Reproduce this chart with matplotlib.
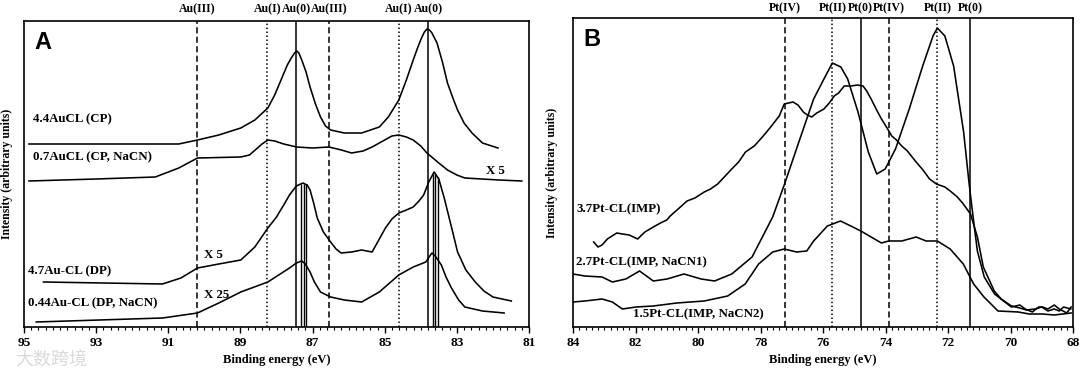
import matplotlib
matplotlib.use("Agg")
import matplotlib.pyplot as plt
from matplotlib.ticker import MultipleLocator
import numpy as np

SERIF = ["Liberation Serif", "DejaVu Serif"]

# ---------------- Panel A: Au 4f ----------------
a_lines = [90.2, 88.25, 87.45, 86.55, 84.6, 83.8]
a_labels = ["Au(III)", "Au(I)", "Au(0)", "Au(III)", "Au(I)", "Au(0)"]
a_styles = ["dashed", "dotted", "solid", "dashed", "dotted", "solid"]

a1_ev = [94.86, 92.80, 91.20, 90.71, 90.19, 89.60, 88.99, 88.60, 88.24, 88.05,
         87.84, 87.70, 87.59, 87.50, 87.44, 87.38, 87.30, 87.18, 87.07, 86.92,
         86.78, 86.64, 86.50, 86.12, 85.64, 85.15, 84.90, 84.61, 84.40, 84.21,
         84.08, 83.98, 83.90, 83.83, 83.76, 83.69, 83.55, 83.40, 83.26, 83.10,
         82.98, 82.80, 82.58, 82.29, 81.86]
a1_y = [183, 183, 183, 183, 187, 192, 199, 207, 219, 232,
        250, 262, 269, 274, 276, 274, 267, 255, 240, 223,
        210, 201, 197, 194, 194, 200, 210, 227, 247, 267,
        280, 289, 295, 298, 297, 294, 284, 265, 244, 228,
        217, 204, 194, 184, 179]

a2_ev = [94.86, 93.00, 91.36, 90.71, 90.19, 88.99, 88.75, 88.40, 88.24, 88.05,
         87.80, 87.44, 87.00, 86.55, 86.20, 85.92, 85.60, 85.35, 85.00, 84.80,
         84.61, 84.40, 84.21, 84.00, 83.83, 83.50, 83.26, 83.00, 82.78, 81.83, 81.20]
a2_y = [146, 148, 150, 159, 169, 170, 172, 183, 187, 186,
        183, 180, 179, 180, 177, 174, 176, 180, 187, 191,
        192, 190, 187, 181, 174, 164, 157, 152, 149, 147, 146]

a3_ev = [94.46, 92.80, 91.16, 90.65, 90.19, 89.60, 88.99, 88.60, 88.24, 88.00,
         87.80, 87.64, 87.45, 87.27, 87.15, 87.07, 86.97, 86.87, 86.70, 86.50,
         86.35, 86.21, 85.92, 85.64, 85.35, 84.98, 84.80, 84.61, 84.40, 84.21,
         84.05, 83.92, 83.78, 83.63, 83.50, 83.35, 83.15, 82.98, 82.75, 82.49,
         82.25, 82.00, 81.49]
a3_y = [45, 44, 43, 49, 59, 63, 67, 80, 99, 110,
        122, 132, 141, 144, 142, 137, 124, 109, 95, 85,
        78, 74, 75, 77, 75, 99, 108, 114, 117, 120,
        126, 132, 145, 155, 148, 129, 100, 75, 57, 45,
        36, 30, 26]

a4_ev = [94.66, 91.16, 90.19, 89.60, 88.99, 88.24, 87.64, 87.45, 87.30, 87.20,
         87.07, 86.95, 86.78, 86.50, 86.12, 85.64, 85.15, 84.61, 84.21, 83.86,
         83.75, 83.69, 83.60, 83.43, 83.30, 83.15, 82.95, 82.78, 82.29, 81.69]
a4_y = [5, 9, 14, 24, 35, 45, 59, 64, 66, 63,
        55, 45, 35, 30, 27, 25, 35, 52, 60, 65,
        71, 74, 71, 62, 50, 39, 27, 20, 16, 14]

a_sticks = [87.31, 87.24, 87.18, 83.66, 83.60, 83.53]

# ---------------- Panel B: Pt 4f ----------------
b_lines = [77.23, 75.70, 74.79, 73.90, 72.34, 71.30]
b_labels = ["Pt(IV)", "Pt(II)", "Pt(0)", "Pt(IV)", "Pt(II)", "Pt(0)"]
b_styles = ["dashed", "dotted", "solid", "dashed", "dotted", "solid"]

b1_ev = [83.34, 83.20, 83.07, 82.90, 82.75, 82.60, 82.42, 82.20, 81.93, 81.70,
         81.43, 81.20, 81.00, 80.89, 80.60, 80.35, 80.10, 79.80, 79.60, 79.37,
         79.10, 78.92, 78.70, 78.48, 78.20, 77.94, 77.70, 77.40, 77.24, 76.96,
         76.80, 76.63, 76.50, 76.36, 76.20, 75.97, 75.80, 75.64, 75.50, 75.32,
         75.10, 74.90, 74.72, 74.60, 74.46, 74.30, 74.13, 73.95, 73.80, 73.65,
         73.48, 73.30, 73.02, 72.80, 72.59, 72.37, 72.10, 71.93, 71.70, 71.51,
         71.28, 71.06, 70.87, 70.52, 70.30, 69.97, 69.70, 69.50, 69.21, 69.00,
         68.80, 68.60, 68.44, 68.30, 68.07]
b1_y = [85, 80, 82, 88, 91, 94, 93, 92, 88, 95,
        100, 104, 107, 111, 119, 126, 129, 135, 138, 143,
        152, 158, 165, 175, 181, 190, 199, 211, 223, 225,
        222, 215, 212, 210, 214, 218, 224, 231, 234, 241,
        241, 242, 241, 236, 228, 218, 208, 199, 191, 187,
        181, 176, 165, 157, 148, 143, 140, 136, 130, 123,
        113, 90, 60, 36, 28, 21, 19, 17, 18, 20,
        16, 18, 16, 20, 18]

b2_ev = [84.00, 83.62, 83.07, 82.74, 82.31, 81.87, 81.43, 80.99, 80.45, 79.90,
         79.47, 78.92, 78.27, 77.61, 77.23, 76.74, 76.30, 75.97, 75.70, 75.43,
         75.21, 74.88, 74.55, 74.28, 74.01, 73.68, 73.24, 72.81, 72.48, 72.34,
         72.10, 71.82, 71.50, 71.33, 71.22, 71.06, 70.84, 70.51, 69.97, 69.70,
         69.53, 69.30, 69.10, 68.98, 68.80, 68.60, 68.44, 68.20, 68.06]
b2_y = [53, 51, 50, 45, 48, 56, 46, 48, 53, 48,
        46, 53, 70, 110, 143, 188, 228, 248, 264, 260,
        248, 215, 175, 153, 158, 178, 218, 261, 291, 299,
        291, 261, 195, 145, 116, 76, 50, 33, 20, 22,
        18, 15, 20, 20, 18, 22, 18, 14, 20]

b3_ev = [84.00, 83.62, 83.07, 82.74, 82.42, 81.98, 81.43, 80.68, 79.80, 79.05,
         78.49, 78.06, 77.61, 77.24, 76.85, 76.52, 76.30, 75.86, 75.44, 75.11,
         74.79, 74.46, 74.13, 73.90, 73.48, 73.02, 72.70, 72.34, 71.93, 71.51,
         71.18, 70.85, 70.40, 69.75, 69.40, 68.98, 68.60, 68.06]
b3_y = [25, 26, 28, 25, 18, 20, 21, 24, 26, 31,
        43, 63, 75, 78, 75, 76, 86, 101, 106, 101,
        96, 90, 84, 86, 86, 90, 86, 86, 78, 63,
        43, 30, 16, 15, 13, 13, 12, 14]

fig = plt.figure(figsize=(10.8, 3.7), dpi=100)
axA = fig.add_axes([24 / 1080, 43 / 370, 505 / 1080, 306 / 370])
axB = fig.add_axes([573 / 1080, 43 / 370, 500 / 1080, 309 / 370])

line_kw = dict(color="black", lw=1.15)
styles = {"dashed": (0, (4, 2.2)), "dotted": (0, (1, 1.6)), "solid": "-"}

def setup(ax, xmax, xmin, ymax, ticks):
    ax.set_xlim(xmax, xmin)
    ax.set_ylim(0, ymax)
    ax.set_yticks([])
    ax.set_xticks(ticks)
    ax.xaxis.set_minor_locator(MultipleLocator(0.2))
    ax.tick_params(axis="x", which="major", direction="out", length=4, width=1, pad=3)
    ax.tick_params(axis="x", which="minor", direction="out", length=2, width=0.8)
    for lab in ax.get_xticklabels():
        lab.set_family(SERIF)
        lab.set_fontweight("bold")
        lab.set_fontsize(9.5)
    for s in ax.spines.values():
        s.set_linewidth(1.2)
    ax.set_xlabel("Binding energy (eV)", family=SERIF, fontweight="bold", fontsize=9, labelpad=4)
    ax.set_ylabel("Intensity (arbitrary units)", family=SERIF, fontweight="bold", fontsize=8.5)

def ref_lines(ax, pos, labels, ls, ytxt):
    for x, lab, st in zip(pos, labels, ls):
        ax.axvline(x, color="black", lw=1.1, linestyle=styles[st])
        ax.text(x, ytxt, lab, transform=ax.get_xaxis_transform(), ha="center", va="center",
                family=SERIF, fontweight="bold", fontsize=8.5)

txt = dict(family=SERIF, fontweight="bold", fontsize=9.3, va="center", ha="left")

# Panel A
setup(axA, 95, 81, 306, [95, 93, 91, 89, 87, 85, 83, 81])
axA.yaxis.set_label_coords(-0.021, 0.5)
ref_lines(axA, a_lines, a_labels, a_styles, 1.038)
for ev, y in [(a1_ev, a1_y), (a2_ev, a2_y), (a3_ev, a3_y), (a4_ev, a4_y)]:
    axA.plot(ev, y, **line_kw)
stick_top = np.interp(a_sticks, a3_ev[::-1], a3_y[::-1])
axA.vlines(a_sticks, 0, stick_top, color="black", lw=1.0)
axA.text(94.74, 208, "4.4AuCL (CP)", **txt)
axA.text(94.74, 170, "0.7AuCL (CP, NaCN)", **txt)
axA.text(82.2, 156, "X 5", **txt)
axA.text(90.02, 72, "X 5", **txt)
axA.text(94.89, 56, "4.7Au-CL (DP)", **txt)
axA.text(90.02, 32, "X 25", **txt)
axA.text(94.89, 24, "0.44Au-CL (DP, NaCN)", **txt)
axA.text(0.02, 0.93, "A", transform=axA.transAxes, fontsize=17, fontweight="bold",
         family="Liberation Sans", va="center")

# Panel B
setup(axB, 84, 68, 309, [84, 82, 80, 78, 76, 74, 72, 70, 68])
axB.yaxis.set_label_coords(-0.029, 0.5)
ref_lines(axB, b_lines, b_labels, b_styles, 1.032)
for ev, y in [(b1_ev, b1_y), (b2_ev, b2_y), (b3_ev, b3_y)]:
    axB.plot(ev, y, **line_kw)
axB.text(83.89, 118, "3.7Pt-CL(IMP)", **txt)
axB.text(83.89, 65, "2.7Pt-CL(IMP, NaCN1)", **txt)
axB.text(82.09, 13, "1.5Pt-CL(IMP, NaCN2)", **txt)
axB.text(0.02, 0.93, "B", transform=axB.transAxes, fontsize=17, fontweight="bold",
         family="Liberation Sans", va="center")

# watermark
fig.text(0.014, 0.028, "大数跨境", family=["Noto Sans CJK SC", "DejaVu Sans"], fontsize=13,
         color="#dadada", va="center", ha="left")

fig.savefig("out.png", dpi=100)
